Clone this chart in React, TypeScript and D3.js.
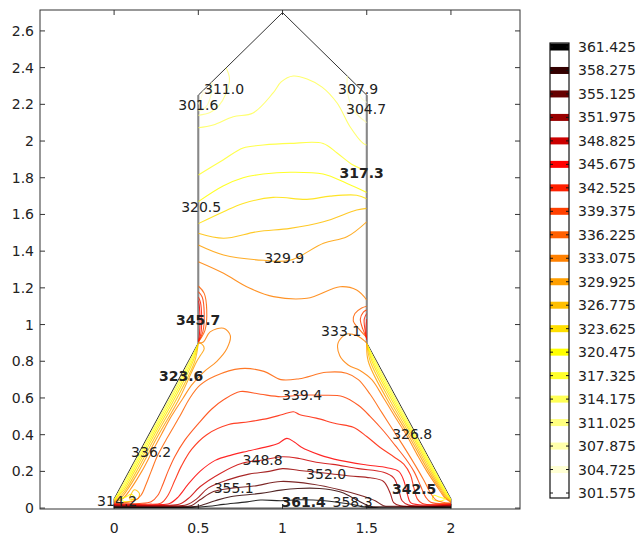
import React from "react";
import * as d3 from "d3";

// contour levels
const levels = [301.575, 304.725, 307.875, 311.025, 314.175, 317.325, 320.475, 323.625, 326.775, 329.925,
  333.075, 336.225, 339.375, 342.525, 345.675, 348.825, 351.975, 355.125, 358.275, 361.425];

const xTicks = [0, 0.5, 1, 1.5, 2];
const xTickLabels = ["0", "0.5", "1", "1.5", "2"];
const yTicks = [0, 0.2, 0.4, 0.6, 0.8, 1, 1.2, 1.4, 1.6, 1.8, 2, 2.2, 2.4, 2.6];
const yTickLabels = ["0", "0.2", "0.4", "0.6", "0.8", "1", "1.2", "1.4", "1.6", "1.8", "2", "2.2", "2.4", "2.6"];

// geometry outline
const outline = [[0, 0], [2, 0], [2, 0.05], [1.5, 0.9], [1.5, 2.25], [1, 2.7], [0.5, 2.25], [0.5, 0.9], [0, 0.05]];

// chimney, top corners
const c304TopLeft = [[0.53, 2.277], [0.515, 2.23], [0.5, 2.2]];
const c307TopLeft = [[0.58, 2.322], [0.575, 2.25], [0.54, 2.18], [0.5, 2.165]];
const c311TopLeft = [[0.665, 2.399], [0.685, 2.34], [0.665, 2.26], [0.62, 2.19], [0.57, 2.155], [0.5, 2.14]];
const c304TopRight = [[1.46, 2.286], [1.465, 2.24], [1.5, 2.21]];
const c307TopRight = [[1.385, 2.354], [1.385, 2.27], [1.42, 2.17], [1.5, 2.1]];

// chimney bands
const c314Chimney = [[0.5, 2.072], [0.588, 2.087], [0.707, 2.132], [0.825, 2.153], [0.944, 2.262], [0.992, 2.322], [1.063, 2.354],
  [1.146, 2.338], [1.235, 2.294], [1.324, 2.207], [1.401, 2.078], [1.479, 1.987], [1.5, 1.978]];
const c317Chimney = [[0.5, 1.815], [0.647, 1.897], [0.766, 1.962], [0.885, 1.978], [1.045, 1.987], [1.241, 1.987], [1.324, 1.935],
  [1.419, 1.869], [1.5, 1.837]];
const c320Chimney = [[0.5, 1.67], [0.647, 1.755], [0.766, 1.8], [0.885, 1.82], [1.045, 1.83], [1.241, 1.82], [1.38, 1.77], [1.5, 1.72]];
const c323Chimney = [[0.5, 1.55], [0.65, 1.615], [0.766, 1.66], [0.944, 1.693], [1.145, 1.682], [1.283, 1.7], [1.44, 1.705], [1.5, 1.685]];
const c326Chimney = [[0.5, 1.497], [0.65, 1.47], [0.85, 1.506], [1.045, 1.524], [1.243, 1.56], [1.44, 1.624], [1.5, 1.633]];
const c330Chimney = [[0.5, 1.433], [0.65, 1.379], [0.887, 1.35], [1.045, 1.35], [1.243, 1.443], [1.382, 1.478], [1.5, 1.56]];
const c333Chimney = [[0.5, 1.342], [0.65, 1.279], [0.8, 1.2], [0.946, 1.152], [1.145, 1.143], [1.342, 1.206], [1.44, 1.188], [1.5, 1.134]];

// hot spots on the walls above the junctions
const c336NeckL = [[0.5, 0.905], [0.54, 0.97], [0.55, 1.08], [0.535, 1.17], [0.5, 1.21]];
const c339NeckL = [[0.5, 0.905], [0.527, 0.96], [0.535, 1.06], [0.523, 1.15], [0.5, 1.18]];
const c342NeckL = [[0.5, 0.905], [0.515, 0.95], [0.52, 1.04], [0.513, 1.12], [0.5, 1.15]];
const c345NeckL = [[0.5, 0.91], [0.507, 0.95], [0.51, 1.03], [0.506, 1.1], [0.5, 1.13]];
const c336NeckR = [[1.5, 0.93], [1.46, 0.97], [1.42, 1.02], [1.43, 1.06], [1.47, 1.09], [1.5, 1.1]];
const c339NeckR = [[1.5, 0.925], [1.477, 0.975], [1.462, 1.03], [1.48, 1.068], [1.5, 1.08]];
const c342NeckR = [[1.5, 0.92], [1.49, 0.97], [1.485, 1.03], [1.5, 1.06]];
const c345NeckR = [[1.5, 0.915], [1.496, 0.97], [1.5, 1.03]];

// cool layer along the slanted edges
const c314EdgeL = [[0.5, 0.9], [0.447, 0.8], [0.332, 0.6], [0.213, 0.4], [0.095, 0.2], [0.035, 0.1], [0, 0.049]];
const c317EdgeL = [[0.5, 0.9], [0.453, 0.8], [0.34, 0.6], [0.22, 0.4], [0.102, 0.2], [0.042, 0.1], [0, 0.046]];
const c320EdgeL = [[0.5, 0.9], [0.461, 0.8], [0.35, 0.6], [0.229, 0.4], [0.111, 0.2], [0.05, 0.1], [0, 0.043]];
const c323EdgeL = [[0.5, 0.9], [0.469, 0.8], [0.361, 0.6], [0.239, 0.4], [0.121, 0.2], [0.059, 0.1], [0.02, 0.06], [0, 0.04]];
const c326EdgeL = [[0.5, 0.9], [0.479, 0.8], [0.374, 0.6], [0.251, 0.4], [0.133, 0.2], [0.069, 0.1], [0.03, 0.058], [0, 0.037]];
const c330EdgeL = [[0.5, 0.9], [0.52, 0.895], [0.535, 0.87], [0.515, 0.835], [0.491, 0.8], [0.389, 0.6], [0.264, 0.4], [0.146, 0.2],
  [0.079, 0.1], [0.04, 0.055], [0, 0.034]];
const c333EdgeL = [[0.5, 0.9], [0.53, 0.905], [0.57, 0.96], [0.65, 0.98], [0.69, 0.94], [0.67, 0.87], [0.61, 0.8], [0.53, 0.74],
  [0.46, 0.67], [0.41, 0.6], [0.34, 0.5], [0.28, 0.4], [0.222, 0.3], [0.164, 0.2], [0.095, 0.1], [0.05, 0.05], [0, 0.031]];
const c314EdgeR = [[1.5, 0.9], [1.553, 0.8], [1.669, 0.6], [1.788, 0.4], [1.907, 0.2], [1.967, 0.1], [2, 0.049]];
const c317EdgeR = [[1.5, 0.9], [1.547, 0.8], [1.661, 0.6], [1.782, 0.4], [1.901, 0.2], [1.963, 0.1], [2, 0.046]];
const c320EdgeR = [[1.5, 0.9], [1.539, 0.8], [1.652, 0.6], [1.775, 0.4], [1.895, 0.2], [1.958, 0.1], [2, 0.043]];
const c323EdgeR = [[1.5, 0.9], [1.531, 0.8], [1.642, 0.6], [1.767, 0.4], [1.887, 0.2], [1.952, 0.1], [1.98, 0.06], [2, 0.04]];
const c326EdgeR = [[1.5, 0.9], [1.521, 0.8], [1.63, 0.6], [1.757, 0.4], [1.878, 0.2], [1.945, 0.1], [1.975, 0.058], [2, 0.037]];
const c330EdgeR = [[1.5, 0.9], [1.509, 0.8], [1.616, 0.6], [1.746, 0.4], [1.868, 0.2], [1.938, 0.1], [1.97, 0.055], [2, 0.034]];
const c333EdgeR = [[1.5, 0.9], [1.44, 0.94], [1.38, 0.948], [1.33, 0.9], [1.34, 0.83], [1.39, 0.78], [1.46, 0.75], [1.53, 0.7],
  [1.6, 0.6], [1.68, 0.48], [1.735, 0.4], [1.8, 0.29], [1.857, 0.2], [1.93, 0.1], [1.96, 0.06], [2, 0.031]];

// small cool pockets in the bottom corners
const c320CornerL = [[0.03, 0.05], [0.07, 0.06], [0.1, 0.075], [0.12, 0.06], [0.1, 0.04], [0.06, 0.036], [0.03, 0.05]];
const c326CornerL = [[0.09, 0.05], [0.12, 0.1], [0.15, 0.08], [0.14, 0.05], [0.09, 0.05]];
const c320CornerR = [[1.97, 0.05], [1.93, 0.06], [1.9, 0.07], [1.89, 0.05], [1.93, 0.037], [1.97, 0.05]];

// lower part, nested arches over the hot bottom
const c336Lower = [[0, 0.028], [0.06, 0.03], [0.12, 0.04], [0.16, 0.07], [0.19, 0.13], [0.22, 0.2], [0.26, 0.29], [0.32, 0.39],
  [0.39, 0.5], [0.45, 0.6], [0.51, 0.67], [0.6, 0.72], [0.75, 0.76], [0.89, 0.745], [0.99, 0.7], [1.1, 0.705], [1.26, 0.74],
  [1.38, 0.735], [1.45, 0.7], [1.52, 0.62], [1.59, 0.52], [1.66, 0.42], [1.73, 0.32], [1.79, 0.23], [1.84, 0.15], [1.88, 0.08],
  [1.91, 0.045], [1.95, 0.032], [2, 0.028]];
const c339Lower = [[0, 0.025], [0.15, 0.025], [0.22, 0.035], [0.26, 0.07], [0.29, 0.13], [0.32, 0.2], [0.36, 0.28], [0.42, 0.37],
  [0.5, 0.46], [0.58, 0.54], [0.65, 0.59], [0.75, 0.635], [0.87, 0.62], [0.99, 0.607], [1.1, 0.615], [1.24, 0.615], [1.36, 0.607],
  [1.45, 0.56], [1.52, 0.5], [1.6, 0.42], [1.67, 0.34], [1.73, 0.27], [1.78, 0.2], [1.82, 0.12], [1.85, 0.06], [1.88, 0.032], [2, 0.025]];
const c342Lower = [[0, 0.022], [0.2, 0.021], [0.28, 0.028], [0.32, 0.07], [0.36, 0.15], [0.4, 0.23], [0.46, 0.32], [0.55, 0.4],
  [0.68, 0.455], [0.8, 0.47], [0.92, 0.49], [1.0, 0.51], [1.065, 0.525], [1.1, 0.51], [1.2, 0.49], [1.32, 0.46], [1.42, 0.44],
  [1.5, 0.39], [1.58, 0.33], [1.66, 0.28], [1.72, 0.24], [1.76, 0.18], [1.78, 0.11], [1.8, 0.05], [1.83, 0.025], [2, 0.022]];
const c345Lower = [[0, 0.019], [0.25, 0.018], [0.33, 0.025], [0.38, 0.06], [0.44, 0.13], [0.51, 0.2], [0.6, 0.26], [0.7, 0.29],
  [0.79, 0.31], [0.91, 0.335], [0.97, 0.35], [1.026, 0.38], [1.07, 0.36], [1.11, 0.333], [1.22, 0.29], [1.34, 0.26], [1.5, 0.235],
  [1.62, 0.22], [1.69, 0.2], [1.72, 0.15], [1.74, 0.08], [1.76, 0.03], [1.8, 0.019], [2, 0.019]];
const c348Lower = [[0, 0.016], [0.3, 0.015], [0.39, 0.022], [0.45, 0.06], [0.51, 0.116], [0.63, 0.189], [0.76, 0.244], [0.88, 0.262],
  [1.0, 0.28], [1.1, 0.27], [1.2, 0.25], [1.3, 0.238], [1.45, 0.215], [1.6, 0.195], [1.66, 0.165], [1.69, 0.1], [1.71, 0.04],
  [1.75, 0.016], [2, 0.016]];
const c352Lower = [[0, 0.013], [0.34, 0.012], [0.43, 0.018], [0.49, 0.05], [0.56, 0.11], [0.68, 0.155], [0.8, 0.185], [0.92, 0.2],
  [1.0, 0.215], [1.1, 0.205], [1.26, 0.19], [1.4, 0.175], [1.52, 0.165], [1.6, 0.145], [1.64, 0.08], [1.66, 0.03], [1.7, 0.013], [2, 0.013]];
const c355Lower = [[0, 0.01], [0.38, 0.009], [0.46, 0.014], [0.51, 0.045], [0.59, 0.09], [0.71, 0.11], [0.83, 0.12], [0.99, 0.145],
  [1.18, 0.13], [1.34, 0.1], [1.46, 0.07], [1.55, 0.04], [1.6, 0.013], [1.66, 0.01], [2, 0.01]];
const c358Lower = [[0, 0.007], [0.42, 0.006], [0.51, 0.013], [0.6, 0.04], [0.69, 0.062], [0.87, 0.08], [0.99, 0.098], [1.09, 0.107],
  [1.22, 0.107], [1.34, 0.089], [1.4, 0.065], [1.46, 0.035], [1.52, 0.01], [1.6, 0.007], [2, 0.007]];
const c361Lower = [[0, 0.004], [0.46, 0.004], [0.56, 0.01], [0.65, 0.02], [0.79, 0.034], [0.87, 0.044], [0.99, 0.04], [1.1, 0.045],
  [1.25, 0.04], [1.4, 0.022], [1.5, 0.005], [2, 0.004]];

const contourLines = [
  { level: 304.725, pts: c304TopLeft }, { level: 307.875, pts: c307TopLeft }, { level: 311.025, pts: c311TopLeft },
  { level: 304.725, pts: c304TopRight }, { level: 307.875, pts: c307TopRight },
  { level: 314.175, pts: c314Chimney }, { level: 317.325, pts: c317Chimney }, { level: 320.475, pts: c320Chimney },
  { level: 323.625, pts: c323Chimney }, { level: 326.775, pts: c326Chimney }, { level: 329.925, pts: c330Chimney },
  { level: 333.075, pts: c333Chimney },
  { level: 336.225, pts: c336NeckL }, { level: 339.375, pts: c339NeckL }, { level: 342.525, pts: c342NeckL }, { level: 345.675, pts: c345NeckL },
  { level: 336.225, pts: c336NeckR }, { level: 339.375, pts: c339NeckR }, { level: 342.525, pts: c342NeckR }, { level: 345.675, pts: c345NeckR },
  { level: 314.175, pts: c314EdgeL }, { level: 317.325, pts: c317EdgeL }, { level: 320.475, pts: c320EdgeL }, { level: 323.625, pts: c323EdgeL },
  { level: 326.775, pts: c326EdgeL }, { level: 329.925, pts: c330EdgeL }, { level: 333.075, pts: c333EdgeL },
  { level: 314.175, pts: c314EdgeR }, { level: 317.325, pts: c317EdgeR }, { level: 320.475, pts: c320EdgeR }, { level: 323.625, pts: c323EdgeR },
  { level: 326.775, pts: c326EdgeR }, { level: 329.925, pts: c330EdgeR }, { level: 333.075, pts: c333EdgeR },
  { level: 320.475, pts: c320CornerL }, { level: 326.775, pts: c326CornerL }, { level: 320.475, pts: c320CornerR },
  { level: 336.225, pts: c336Lower }, { level: 339.375, pts: c339Lower }, { level: 342.525, pts: c342Lower }, { level: 345.675, pts: c345Lower },
  { level: 348.825, pts: c348Lower }, { level: 351.975, pts: c352Lower }, { level: 355.125, pts: c355Lower }, { level: 358.275, pts: c358Lower },
  { level: 361.425, pts: c361Lower },
];

// inline labels: text, centre (data units), bold
const labelTexts = ["301.6", "311.0", "307.9", "304.7", "317.3", "320.5", "329.9", "345.7", "333.1", "323.6", "339.4",
  "326.8", "336.2", "348.8", "352.0", "355.1", "314.2", "361.4", "358.3", "342.5"];
const labelX = [0.5, 0.653, 1.449, 1.496, 1.47, 0.517, 1.01, 0.499, 1.348, 0.398, 1.116, 1.77, 0.22, 0.882, 1.259, 0.71, 0.018, 1.125, 1.416, 1.781];
const labelY = [2.199, 2.281, 2.281, 2.172, 1.828, 1.638, 1.36, 1.025, 0.967, 0.717, 0.616, 0.406, 0.305, 0.262, 0.188, 0.109, 0.038, 0.035, 0.035, 0.106];
const labelBold = ["317.3", "345.7", "323.6", "342.5", "361.4"];

const font = "'DejaVu Sans', sans-serif";

export default function App() {
  const x = d3.scaleLinear().domain([-0.44, 2.41]).range([40, 520]);
  const y = d3.scaleLinear().domain([-0.005, 2.714]).range([509, 10]);
  const color = d3.scaleLinear<string>()
    .domain([301.575, 320.475, 345.675, 361.425])
    .range(["#ffffff", "#ffff00", "#ff0000", "#000000"]);

  const line = d3.line<number[]>().x(d => x(d[0])).y(d => y(d[1])).curve(d3.curveCatmullRom.alpha(0.5));
  const straight = d3.line<number[]>().x(d => x(d[0])).y(d => y(d[1]));
  const outlinePath = straight(outline) + "Z";

  const legY = d3.scaleLinear().domain([361.425, 301.575]).range([47, 493]);

  return (
    <svg width={641} height={539} style={{ position: "absolute", left: 0, top: 0, background: "#fff" }}>
      <defs>
        <clipPath id="shape"><path d={outlinePath} /></clipPath>
        <clipPath id="legbox"><rect x={550} y={43} width={19} height={455} /></clipPath>
      </defs>

      {/* frame */}
      <rect x={40} y={10} width={480} height={499} fill="none" stroke="#333" strokeWidth={1} />
      {yTicks.map((t, i) => (
        <g key={"y" + i}>
          <line x1={40} x2={45} y1={y(t)} y2={y(t)} stroke="#333" />
          <line x1={515} x2={520} y1={y(t)} y2={y(t)} stroke="#333" />
          <text x={34} y={y(t)} textAnchor="end" dominantBaseline="central" fontFamily={font} fontSize={14} fill="#222">{yTickLabels[i]}</text>
        </g>
      ))}
      {xTicks.map((t, i) => (
        <g key={"x" + i}>
          <line x1={x(t)} x2={x(t)} y1={509} y2={504} stroke="#333" />
          <line x1={x(t)} x2={x(t)} y1={10} y2={15} stroke="#333" />
          <text x={x(t)} y={528} textAnchor="middle" dominantBaseline="central" fontFamily={font} fontSize={14} fill="#222">{xTickLabels[i]}</text>
        </g>
      ))}

      {/* geometry */}
      <path d={outlinePath} fill="none" stroke="#333" strokeWidth={1} />
      <line x1={x(0.5)} x2={x(0.5)} y1={y(0.9)} y2={y(2.25)} stroke="#888" strokeWidth={2} />
      <line x1={x(1.5)} x2={x(1.5)} y1={y(0.9)} y2={y(2.25)} stroke="#888" strokeWidth={2} />

      {/* contours */}
      <g clipPath="url(#shape)">
        {contourLines.map((c, i) => (
          <path key={i} d={line(c.pts) ?? ""} fill="none" stroke={color(c.level)} strokeOpacity={0.85}
            strokeWidth={1.1} strokeLinejoin="round" />
        ))}
      </g>

      {labelTexts.map((t, i) => (
        <text key={"l" + i} x={x(labelX[i])} y={y(labelY[i])} textAnchor="middle" dominantBaseline="central"
          fontFamily={font} fontSize={14} fill="#222" fontWeight={labelBold.includes(t) ? "bold" : "normal"}>{t}</text>
      ))}

      {/* legend */}
      <rect x={550} y={43} width={19} height={455} fill="#fff" stroke="none" />
      <g clipPath="url(#legbox)">
        {levels.map(l => (
          <rect key={"b" + l} x={550} y={legY(l) - 3.5} width={19} height={7} fill={color(l)} />
        ))}
      </g>
      {levels.map(l => (
        <g key={"k" + l}>
          <line x1={550} x2={553} y1={legY(l)} y2={legY(l)} stroke="#111" />
          <line x1={566} x2={569} y1={legY(l)} y2={legY(l)} stroke="#111" />
          <text x={578} y={legY(l)} dominantBaseline="central" fontFamily={font} fontSize={14} fill="#222">{l.toFixed(3)}</text>
        </g>
      ))}
      <rect x={550} y={43} width={19} height={455} fill="none" stroke="#111" strokeWidth={1.2} />
    </svg>
  );
}
